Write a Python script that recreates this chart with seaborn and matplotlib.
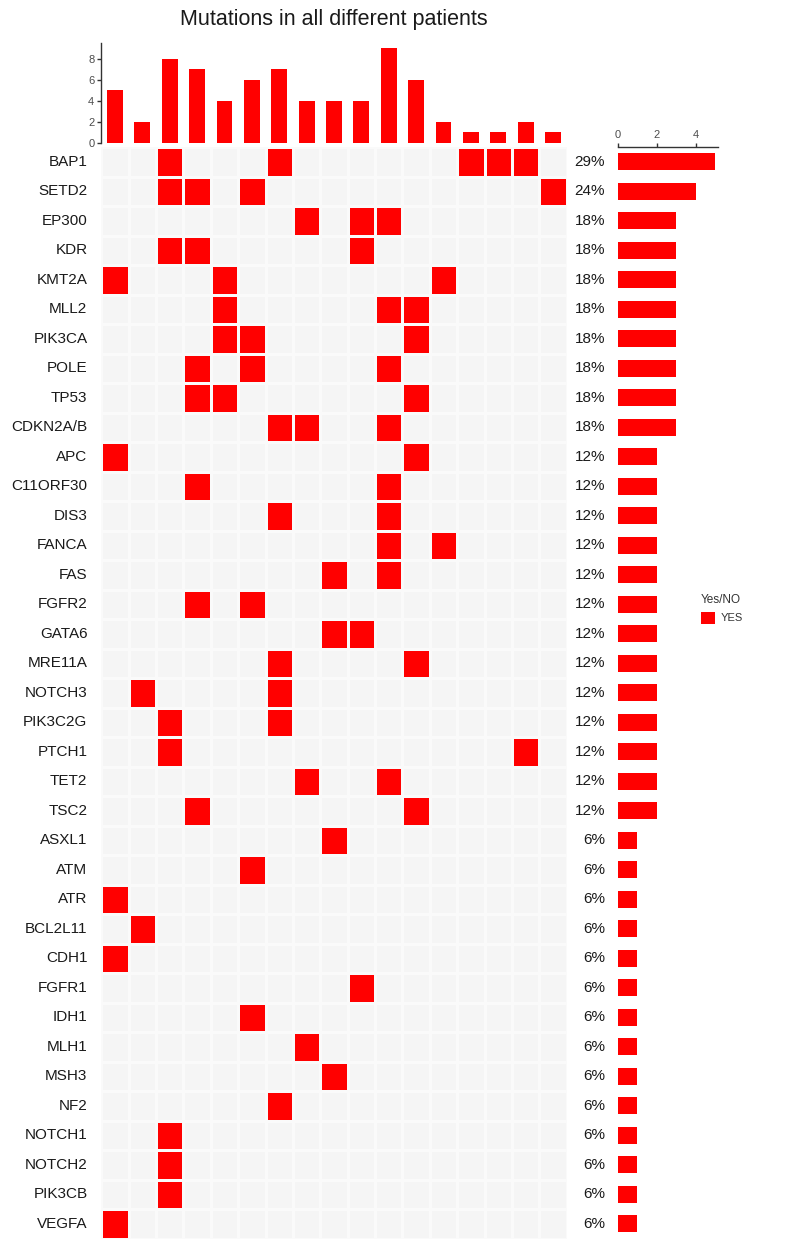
import numpy as np
import pandas as pd
import seaborn as sns
import matplotlib
matplotlib.use("Agg")
import matplotlib.pyplot as plt
from matplotlib.colors import ListedColormap
from matplotlib.patches import Patch

# ---------------- data ----------------
genes = ["BAP1", "SETD2", "EP300", "KDR", "KMT2A", "MLL2", "PIK3CA", "POLE", "TP53",
         "CDKN2A/B", "APC", "C11ORF30", "DIS3", "FANCA", "FAS", "FGFR2", "GATA6",
         "MRE11A", "NOTCH3", "PIK3C2G", "PTCH1", "TET2", "TSC2", "ASXL1", "ATM",
         "ATR", "BCL2L11", "CDH1", "FGFR1", "IDH1", "MLH1", "MSH3", "NF2",
         "NOTCH1", "NOTCH2", "PIK3CB", "VEGFA"]

patients = [f"P{i}" for i in range(1, 18)]

# patient numbers (1-based) carrying a mutation, one list per gene
mutated_patients = [
    [3, 7, 14, 15, 16],      # BAP1
    [3, 4, 6, 17],           # SETD2
    [8, 10, 11],             # EP300
    [3, 4, 10],              # KDR
    [1, 5, 13],              # KMT2A
    [5, 11, 12],             # MLL2
    [5, 6, 12],              # PIK3CA
    [4, 6, 11],              # POLE
    [4, 5, 12],              # TP53
    [7, 8, 11],              # CDKN2A/B
    [1, 12],                 # APC
    [4, 11],                 # C11ORF30
    [7, 11],                 # DIS3
    [11, 13],                # FANCA
    [9, 11],                 # FAS
    [4, 6],                  # FGFR2
    [9, 10],                 # GATA6
    [7, 12],                 # MRE11A
    [2, 7],                  # NOTCH3
    [3, 7],                  # PIK3C2G
    [3, 16],                 # PTCH1
    [8, 11],                 # TET2
    [4, 12],                 # TSC2
    [9],                     # ASXL1
    [6],                     # ATM
    [1],                     # ATR
    [2],                     # BCL2L11
    [1],                     # CDH1
    [10],                    # FGFR1
    [6],                     # IDH1
    [8],                     # MLH1
    [9],                     # MSH3
    [7],                     # NF2
    [3],                     # NOTCH1
    [3],                     # NOTCH2
    [3],                     # PIK3CB
    [1],                     # VEGFA
]

# ---------------- derived tables ----------------
mat = np.zeros((len(genes), len(patients)), dtype=int)
for gi, plist in enumerate(mutated_patients):
    for p in plist:
        mat[gi, p - 1] = 1
df = pd.DataFrame(mat, index=genes, columns=patients)
patient_counts = df.sum(axis=0).values
gene_counts = df.sum(axis=1).values
pct_labels = [f"{int(round(c / len(patients) * 100))}%" for c in gene_counts]

# ---------------- style ----------------
sns.set_style("white")
plt.rcParams["font.family"] = ["Liberation Sans", "DejaVu Sans"]

RED = "#FF0000"
BG = "#F5F5F5"
W, H = 787, 1243
fig = plt.figure(figsize=(W / 100, H / 100), dpi=100)


def fx(px):
    return px / W


def fy(py):
    return 1 - py / H


heat_l, heat_r = 101.3, 566.7
heat_t, heat_b = 147.0, 1238.5

ax_h = fig.add_axes([fx(heat_l), fy(heat_b), fx(heat_r - heat_l), (heat_b - heat_t) / H])
ax_t = fig.add_axes([fx(heat_l), fy(143), fx(heat_r - heat_l), 100 / H])
ax_r = fig.add_axes([fx(618), fy(heat_b), fx(100), (heat_b - heat_t) / H])

# ---------------- heatmap ----------------
ax_h.set_facecolor(BG)
sns.heatmap(df, ax=ax_h, mask=(df == 0), cmap=ListedColormap([RED, RED]), vmin=0, vmax=1,
            cbar=False, linewidths=2.0, linecolor="#FAFAFA",
            xticklabels=False, yticklabels=True)
ax_h.set_facecolor(BG)
# faint white cell grid
for k in range(len(patients) + 1):
    ax_h.axvline(k, color="white", lw=0.8, zorder=0.5)
for k in range(len(genes) + 1):
    ax_h.axhline(k, color="white", lw=0.8, zorder=0.5)
ax_h.set_xlabel("")
ax_h.set_ylabel("")
ax_h.tick_params(axis="y", length=0, pad=10, labelsize=11, labelcolor="#1a1a1a")
for t in ax_h.get_yticklabels():
    t.set_rotation(0)
for s in ax_h.spines.values():
    s.set_visible(False)

# ---------------- top bars ----------------
sns.barplot(x=patients, y=patient_counts, order=patients, color=RED, saturation=1,
            width=0.58, linewidth=0, ax=ax_t)
ax_t.set_xlim(-0.5, len(patients) - 0.5)
ax_t.set_ylim(0, 9.5)
ax_t.set_yticks([0, 2, 4, 6, 8])
ax_t.set_xticks([])
ax_t.set_xlabel("")
ax_t.set_ylabel("")
for s in ["top", "right", "bottom"]:
    ax_t.spines[s].set_visible(False)
ax_t.spines["left"].set_color("#333333")
ax_t.spines["left"].set_linewidth(1.0)
ax_t.tick_params(axis="y", left=True, length=3, width=1, color="#333333",
                 labelsize=8, labelcolor="#4D4D4D", pad=2)
ax_t.set_facecolor("none")

# ---------------- right bars ----------------
sns.barplot(x=gene_counts, y=genes, order=genes, orient="h", color=RED, saturation=1,
            width=0.59, linewidth=0, ax=ax_r)
ax_r.set_ylim(len(genes) - 0.5, -0.5)
ax_r.set_xlim(0, 5.15)
ax_r.set_xticks([0, 2, 4])
ax_r.set_yticks([])
ax_r.set_xlabel("")
ax_r.set_ylabel("")
for s in ["bottom", "right", "left"]:
    ax_r.spines[s].set_visible(False)
ax_r.spines["top"].set_color("#333333")
ax_r.spines["top"].set_linewidth(1.0)
ax_r.xaxis.tick_top()
ax_r.tick_params(axis="x", top=True, bottom=False, length=3, width=1, color="#333333",
                 labelsize=8, labelcolor="#4D4D4D", pad=2)
ax_r.set_facecolor("none")

# percentage labels
for i, lab in enumerate(pct_labels):
    ax_r.text(-13 / 19.4, i, lab, ha="right", va="center", fontsize=11,
              color="#1a1a1a", clip_on=False)

# ---------------- title & legend ----------------
fig.text(fx(334), fy(20), "Mutations in all different patients", ha="center",
         va="center", fontsize=15.5, color="#1a1a1a")

leg = fig.legend(handles=[Patch(facecolor=RED, edgecolor="none", label="YES")],
                 title="Yes/NO", loc="upper left", bbox_to_anchor=(fx(701), fy(594)),
                 frameon=False, fontsize=8, title_fontsize=8.5, handlelength=1.3,
                 handleheight=1.3, handletextpad=0.5, borderpad=0, borderaxespad=0)
leg._legend_box.align = "left"
leg.get_title().set_color("#333333")
for t in leg.get_texts():
    t.set_color("#333333")

fig.savefig("out.png", dpi=100)
